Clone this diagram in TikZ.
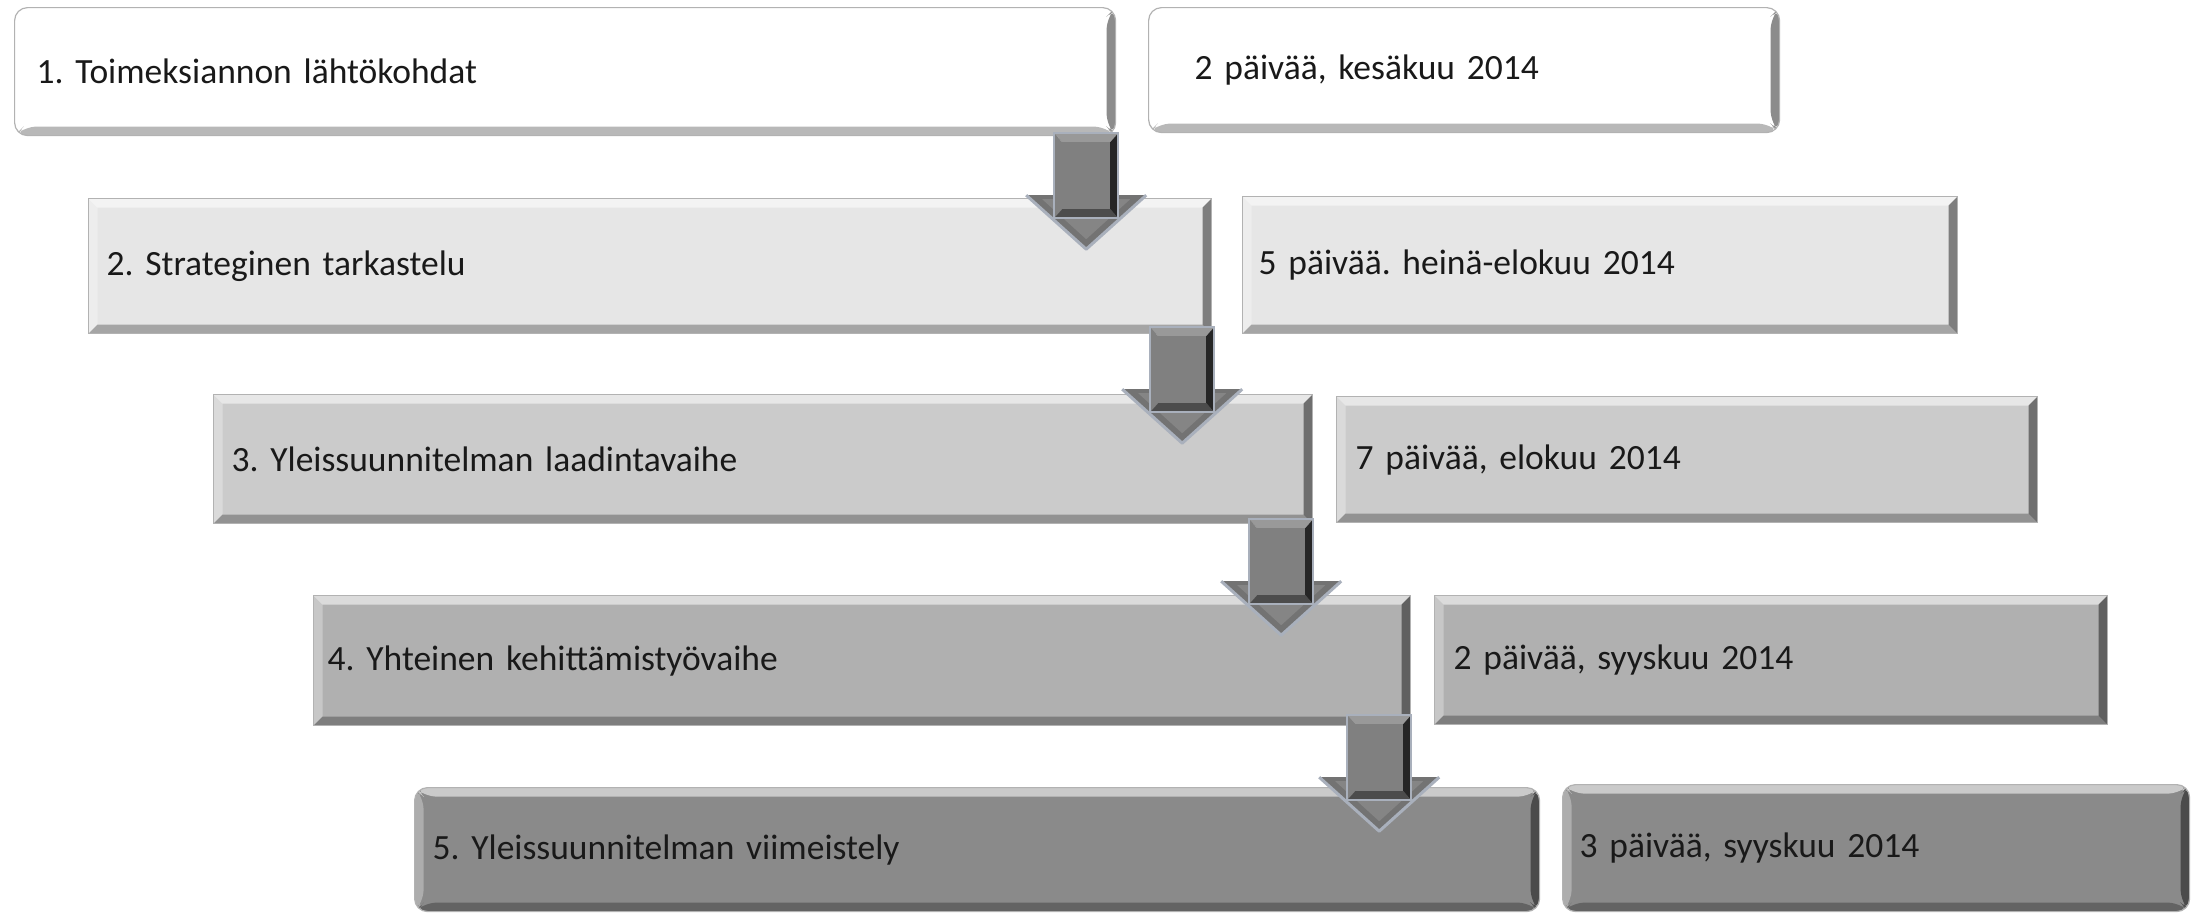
\documentclass[tikz,border=0pt]{standalone}
\usepackage{fontspec}
\setmainfont{Carlito}
\frenchspacing
\definecolor{c1}{HTML}{FFFFFF}
\definecolor{c2}{HTML}{E6E6E6}
\definecolor{c3}{HTML}{CBCBCB}
\definecolor{c4}{HTML}{B0B0B0}
\definecolor{c5}{HTML}{8A8A8A}
\definecolor{rim}{HTML}{A9B0BC}
\tikzset{
  bevel/.style={path picture={
    \fill[white,opacity=.55] (path picture bounding box.north west) -- (path picture bounding box.north east)
      -- ([xshift=-9pt,yshift=-9pt]path picture bounding box.north east) -- ([xshift=9pt,yshift=-9pt]path picture bounding box.north west) -- cycle;
    \fill[white,opacity=.3] (path picture bounding box.north west) -- ([xshift=9pt,yshift=-9pt]path picture bounding box.north west)
      -- ([xshift=9pt,yshift=9pt]path picture bounding box.south west) -- (path picture bounding box.south west) -- cycle;
    \fill[black,opacity=.45] (path picture bounding box.north east) -- ([xshift=-9pt,yshift=-9pt]path picture bounding box.north east)
      -- ([xshift=-9pt,yshift=9pt]path picture bounding box.south east) -- (path picture bounding box.south east) -- cycle;
    \fill[black,opacity=.28] (path picture bounding box.south west) -- ([xshift=9pt,yshift=9pt]path picture bounding box.south west)
      -- ([xshift=-9pt,yshift=9pt]path picture bounding box.south east) -- (path picture bounding box.south east) -- cycle;
  }},
  phasebox/.style={rectangle, anchor=north west, fill=#1, draw=black!30, line width=1.2pt, bevel,
    inner xsep=18pt, inner ysep=0pt, align=left, font=\fontsize{35.5}{42}\selectfont, text=black!90},
  roundbox/.style={rounded corners=13pt},
}
\newcommand{\bevarrow}[1]{%
  \begin{scope}[shift={(#1)}]
    \fill[black!55] (-60,-54) -- (60,-54) -- (0,0) -- cycle;
    \fill[black!48] (-44,-50) -- (44,-50) -- (0,-10) -- cycle;
    \draw[rim, line width=3pt, line join=round] (-60,-54) -- (0,0) -- (60,-54);
    \fill[black!40] (-32,-116) -- (32,-116) -- (24,-107) -- (-24,-107) -- cycle;
    \fill[black!50] (-32,-116) -- (-24,-107) -- (-24,-40) -- (-32,-31) -- cycle;
    \fill[black!85] (32,-116) -- (24,-107) -- (24,-40) -- (32,-31) -- cycle;
    \fill[black!70] (-32,-31) -- (-24,-40) -- (24,-40) -- (32,-31) -- cycle;
    \fill[black!50] (-24,-107) rectangle (24,-40);
    \draw[rim, line width=1.5pt] (-32,-116) rectangle (32,-31);
  \end{scope}}
\begin{document}
\begin{tikzpicture}[x=1pt,y=-1pt]
\useasboundingbox (0,0) rectangle (2200,913);
% left column
\node[phasebox=c1, roundbox, minimum width=1101pt, minimum height=128pt, text width=1057pt, inner xsep=22pt] (p1) at (14,7) {1. Toimeksiannon lähtökohdat};
\node[phasebox=c2, minimum width=1123pt, minimum height=135pt, text width=1087pt] (p2) at (88,198) {2. Strateginen tarkastelu};
\node[phasebox=c3, minimum width=1099pt, minimum height=129pt, text width=1063pt] (p3) at (213,394) {3. Yleissuunnitelman laadintavaihe};
\node[phasebox=c4, minimum width=1097pt, minimum height=130pt, text width=1069pt, inner xsep=14pt] (p4) at (313,595) {4. Yhteinen kehittämistyövaihe};
\node[phasebox=c5, roundbox, minimum width=1125pt, minimum height=124pt, text width=1089pt] (p5) at (414,787) {5. Yleissuunnitelman viimeistely};
% right column
\node[phasebox=c1, roundbox, minimum width=631pt, minimum height=125pt, text width=539pt, inner xsep=46pt] (d1) at (1148,7) {2 päivää, kesäkuu 2014};
\node[phasebox=c2, minimum width=715pt, minimum height=137pt, text width=683pt, inner xsep=16pt] (d2) at (1242,196) {5 päivää. heinä-elokuu 2014};
\node[phasebox=c3, minimum width=701pt, minimum height=126pt, text width=663pt, inner xsep=19pt] (d3) at (1336,396) {7 päivää, elokuu 2014};
\node[phasebox=c4, minimum width=673pt, minimum height=129pt, text width=635pt, inner xsep=19pt] (d4) at (1434,595) {2 päivää, syyskuu 2014};
\node[phasebox=c5, roundbox, minimum width=627pt, minimum height=127pt, text width=593pt, inner xsep=17pt] (d5) at (1562,784) {3 päivää, syyskuu 2014};
% arrows
\coordinate (t1) at ([xshift=-30pt,yshift=-113pt]p1.south east);
\coordinate (t2) at ([xshift=-30pt,yshift=-109pt]p2.south east);
\coordinate (t3) at ([xshift=-32pt,yshift=-111pt]p3.south east);
\coordinate (t4) at ([xshift=-32pt,yshift=-105pt]p4.south east);
\bevarrow{t1}
\bevarrow{t2}
\bevarrow{t3}
\bevarrow{t4}
\end{tikzpicture}
\end{document}
